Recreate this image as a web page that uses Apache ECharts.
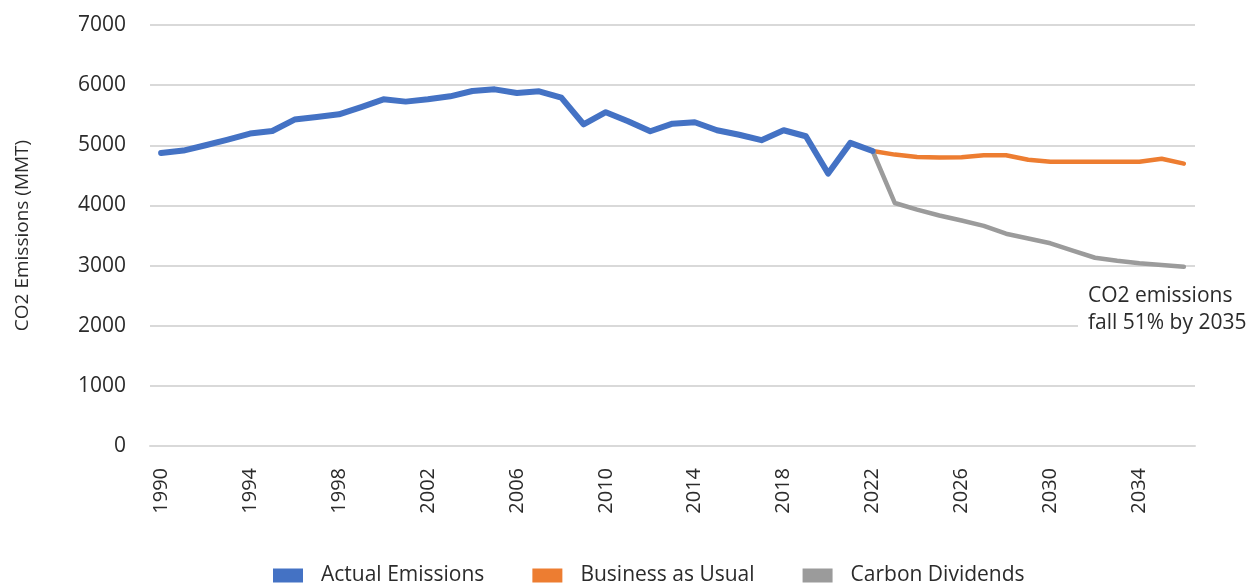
<!DOCTYPE html>
<html>
<head>
<meta charset="utf-8">
<script src="https://cdn.jsdelivr.net/npm/echarts@6/dist/echarts.min.js"></script>
<style>
  html, body { margin: 0; padding: 0; background: #ffffff; }
  #chart { width: 1260px; height: 583px; }
</style>
</head>
<body>
<div id="chart"></div>
<script>
// Years on the x axis
const years = [];
for (let y = 1990; y <= 2036; y++) years.push(String(y));

// Actual emissions 1990-2022 (MMT)
const actualEmissions = [
  4872, 4912, 5000, 5095, 5195, 5238, 5427, 5470, 5515, 5636,
  5764, 5726, 5764, 5814, 5902, 5930, 5870, 5897, 5792, 5349,
  5550, 5400, 5233, 5360, 5383, 5250, 5175, 5085, 5250, 5150,
  4530, 5040, 4905
];
// Business as usual 2022-2036
const businessAsUsual = [
  4905, 4845, 4805, 4795, 4800, 4833, 4833, 4760, 4725, 4725,
  4725, 4725, 4725, 4775, 4695
];
// Carbon dividends 2022-2036
const carbonDividends = [
  4905, 4040, 3930, 3833, 3750, 3660, 3530, 3450, 3370, 3250,
  3130, 3080, 3040, 3010, 2980
];
const projectionStart = '2022';

const FONT = '"Open Sans", "Noto Sans", sans-serif';
const TEXT = '#2b2b2b';

function alignSeries(startYear, vals) {
  const idx = years.indexOf(startYear);
  return years.map((y, i) => (i >= idx && i - idx < vals.length) ? vals[i - idx] : '-');
}

const chart = echarts.init(document.getElementById('chart'), null, { renderer: 'canvas' });
chart.setOption({
  animation: false,
  backgroundColor: '#ffffff',
  textStyle: { fontFamily: FONT, color: TEXT },
  grid: { left: 150, right: 65, top: 25, bottom: 137, containLabel: false },
  legend: {
    left: 268,
    top: 560,
    itemWidth: 30,
    itemHeight: 14,
    itemGap: 48,
    icon: 'rect',
    textStyle: { fontFamily: FONT, fontSize: 21, color: TEXT, padding: [0, 0, 0, 13] },
    data: ['Actual Emissions', 'Business as Usual', 'Carbon Dividends']
  },
  xAxis: {
    type: 'category',
    data: years,
    boundaryGap: true,
    axisLine: { show: true, lineStyle: { color: '#d9d9d9', width: 2 } },
    axisTick: { show: false },
    axisLabel: {
      interval: 3,
      rotate: 90,
      margin: 22,
      fontFamily: FONT,
      fontSize: 20,
      color: TEXT
    },
    splitLine: { show: false }
  },
  yAxis: {
    type: 'value',
    min: 0,
    max: 7000,
    interval: 1000,
    name: 'CO2 Emissions (MMT)',
    nameLocation: 'middle',
    nameGap: 118,
    nameTextStyle: { fontFamily: FONT, fontSize: 19, color: TEXT },
    axisLine: { show: false },
    axisTick: { show: false },
    axisLabel: {
      margin: 24, fontFamily: FONT, fontSize: 21, color: TEXT,
      formatter: v => String(v)
    },
    splitLine: { show: true, lineStyle: { color: '#d9d9d9', width: 2 } }
  },
  series: [
    {
      name: 'Actual Emissions',
      type: 'line',
      data: alignSeries('1990', actualEmissions),
      showSymbol: false,
      symbol: 'none',
      itemStyle: { color: '#4472C4' },
      lineStyle: { color: '#4472C4', width: 6, join: 'round', cap: 'round' },
      z: 3
    },
    {
      name: 'Business as Usual',
      type: 'line',
      data: alignSeries(projectionStart, businessAsUsual),
      showSymbol: false,
      symbol: 'none',
      itemStyle: { color: '#ED7D31' },
      lineStyle: { color: '#ED7D31', width: 4.5, join: 'round', cap: 'round' },
      z: 2
    },
    {
      name: 'Carbon Dividends',
      type: 'line',
      data: alignSeries(projectionStart, carbonDividends),
      showSymbol: false,
      symbol: 'none',
      itemStyle: { color: '#9B9B9B' },
      lineStyle: { color: '#9B9B9B', width: 4.5, join: 'round', cap: 'round' },
      z: 2
    }
  ],
  graphic: [
    {
      type: 'text',
      left: 1078,
      top: 281,
      z: 100,
      style: {
        text: 'CO2 emissions\nfall 51% by 2035',
        font: '21px ' + FONT,
        fill: TEXT,
        lineHeight: 27,
        backgroundColor: '#ffffff',
        padding: [2, 4, 2, 10]
      }
    }
  ]
});
</script>
</body>
</html>
